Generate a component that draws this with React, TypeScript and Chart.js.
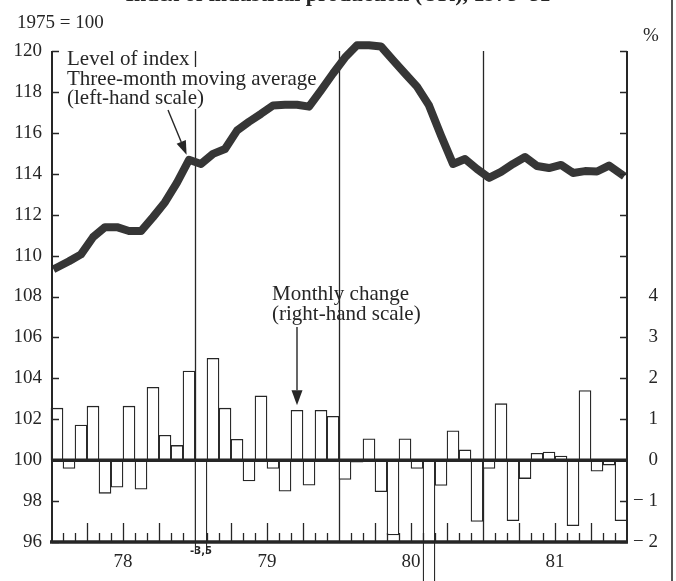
import React, { useEffect, useRef } from 'react';
import { Chart, registerables } from 'chart.js';

Chart.register(...registerables);

// ---- data -------------------------------------------------------------
const yearLabels = ['78', '79', '80', '81'];

// Level of index, three-month moving average (1975 = 100), Jan 1978 .. Dec 1981
const indexLevel = [
  109.42, 109.72, 110.06, 110.9, 111.39, 111.39, 111.2, 111.2, 111.88, 112.61, 113.57, 114.68,
  114.48, 114.97, 115.21, 116.11, 116.54, 116.93, 117.34, 117.37, 117.37, 117.28, 118.08, 118.9,
  119.68, 120.28, 120.28, 120.22, 119.55, 118.9, 118.26, 117.34, 115.87, 114.48, 114.72, 114.23,
  113.8, 114.09, 114.48, 114.82, 114.38, 114.28, 114.43, 114.04, 114.13, 114.11, 114.4, 113.99,
];

// Monthly change, % (right-hand scale)
const monthlyChange = [
  1.27, -0.2, 0.86, 1.32, -0.81, -0.66, 1.32, -0.71, 1.78, 0.61, 0.36, 2.18,
  -3.5, 2.49, 1.27, 0.51, -0.51, 1.57, -0.2, -0.76, 1.22, -0.61, 1.22, 1.07,
  -0.47, -0.05, 0.52, -0.77, -1.83, 0.52, -0.2, -4.6, -0.62, 0.72, 0.25, -1.5,
  -0.2, 1.38, -1.48, -0.45, 0.17, 0.2, 0.1, -1.6, 1.7, -0.27, -0.12, -1.48,
];

const rightLabelled = [-2, -1, 0, 1, 2, 3, 4];
const offScaleNote = '-3,5';

// ---- styles -----------------------------------------------------------
const INK = '#262626';
const SERIF = '"Liberation Serif", "Times New Roman", Times, serif';

function arrow(ctx: CanvasRenderingContext2D, x1: number, y1: number, x2: number, y2: number, head = 14, half = 5) {
  const a = Math.atan2(y2 - y1, x2 - x1);
  const bx = x2 - head * Math.cos(a);
  const by = y2 - head * Math.sin(a);
  ctx.beginPath();
  ctx.moveTo(x1, y1);
  ctx.lineTo(bx, by);
  ctx.stroke();
  ctx.beginPath();
  ctx.moveTo(x2, y2);
  ctx.lineTo(bx + half * Math.sin(a), by - half * Math.cos(a));
  ctx.lineTo(bx - half * Math.sin(a), by + half * Math.cos(a));
  ctx.closePath();
  ctx.fill();
}

const decor = {
  id: 'decor',
  beforeDatasetsDraw(chart: any) {
    const { ctx, chartArea: ca, scales } = chart;
    const x = scales.x;
    ctx.save();
    // year separators
    ctx.strokeStyle = INK;
    ctx.lineWidth = 1.3;
    for (let k = 1; k < yearLabels.length; k++) {
      const px = Math.round(x.getPixelForValue(k * 12)) + 0.5;
      ctx.beginPath();
      ctx.moveTo(px, ca.top);
      ctx.lineTo(px, ca.bottom);
      ctx.stroke();
    }
    // text masks the separator where the caption crosses it
    const sep1 = x.getPixelForValue(12);
    ctx.fillStyle = '#ffffff';
    ctx.fillRect(sep1 - 8, 67, 16, 42);
    ctx.fillStyle = INK;
    ctx.font = `21px ${SERIF}`;
    ctx.textAlign = 'left';
    ctx.textBaseline = 'alphabetic';
    ctx.fillText('Level of index', 67, 65);
    ctx.fillText('Three-month moving average', 67, 85);
    ctx.fillText('(left-hand scale)', 67, 104);
    ctx.restore();
  },
  afterDatasetsDraw(chart: any) {
    const { ctx, chartArea: ca, scales } = chart;
    const x = scales.x;
    const yL = scales.y;
    const yR = scales.y1;
    ctx.save();
    ctx.strokeStyle = INK;
    ctx.fillStyle = INK;

    // zero line of the monthly change
    const y0 = yR.getPixelForValue(0);
    ctx.lineWidth = 3.5;
    ctx.beginPath();
    ctx.moveTo(ca.left, y0);
    ctx.lineTo(ca.right, y0);
    ctx.stroke();

    // bottom axis
    ctx.beginPath();
    ctx.moveTo(ca.left - 1, ca.bottom);
    ctx.lineTo(ca.right + 1, ca.bottom);
    ctx.stroke();

    // left & right axes
    ctx.lineWidth = 2;
    ctx.beginPath();
    ctx.moveTo(ca.left + 1, ca.top);
    ctx.lineTo(ca.left + 1, ca.bottom);
    ctx.moveTo(ca.right, ca.top);
    ctx.lineTo(ca.right, ca.bottom);
    ctx.stroke();

    // left ticks (inward)
    ctx.lineWidth = 1.5;
    for (const t of yL.ticks) {
      const py = Math.round(yL.getPixelForValue(t.value)) + 0.5;
      ctx.beginPath();
      ctx.moveTo(ca.left + 1, py);
      ctx.lineTo(ca.left + 8, py);
      ctx.stroke();
    }
    // right ticks (inward)
    for (const t of yR.ticks) {
      const py = Math.round(yR.getPixelForValue(t.value)) + 0.5;
      ctx.beginPath();
      ctx.moveTo(ca.right - 7, py);
      ctx.lineTo(ca.right, py);
      ctx.stroke();
    }
    // monthly ticks on the time axis
    ctx.lineWidth = 1.3;
    for (let m = 1; m < monthlyChange.length; m++) {
      if (m % 12 === 0) continue;
      const px = Math.round(x.getPixelForValue(m)) + 0.5;
      const len = m % 3 === 0 ? 19 : 9;
      ctx.beginPath();
      ctx.moveTo(px, ca.bottom);
      ctx.lineTo(px, ca.bottom - len);
      ctx.stroke();
    }

    // arrows
    ctx.lineWidth = 1.4;
    const lastOf78 = indexLevel[11];
    arrow(ctx, 168, 110, x.getPixelForValue(11.3), yL.getPixelForValue(lastOf78) - 5);
    const pointTo = 20;
    arrow(ctx, x.getPixelForValue(pointTo + 0.5), 327, x.getPixelForValue(pointTo + 0.5), yR.getPixelForValue(monthlyChange[pointTo]) - 5, 15, 5.5);

    // texts
    ctx.font = `21px ${SERIF}`;
    ctx.textAlign = 'left';
    ctx.fillText('Monthly change', 272, 300);
    ctx.fillText('(right-hand scale)', 272, 320);

    ctx.font = `19px ${SERIF}`;
    ctx.fillText('1975 = 100', 17, 28);
    ctx.textAlign = 'center';
    ctx.fillText('%', 651, 41);

    // off-scale value note
    const deepIdx = monthlyChange.indexOf(-3.5);
    ctx.font = `bold 10px "DejaVu Sans", sans-serif`;
    ctx.fillText(offScaleNote, x.getPixelForValue(deepIdx + 0.5), ca.bottom + 12);

    // clipped heading from the page above
    ctx.font = `bold 22px ${SERIF}`;
    ctx.fillText('Index of industrial production (UK), 1978–81', 338, 1);

    // right edge of the scanned page
    ctx.strokeStyle = '#555';
    ctx.lineWidth = 2;
    ctx.beginPath();
    ctx.moveTo(672, 0);
    ctx.lineTo(672, 581);
    ctx.stroke();
    ctx.restore();
  },
};

export default function App() {
  const ref = useRef<HTMLCanvasElement>(null);

  useEffect(() => {
    document.body.style.margin = '0';
    const canvas = ref.current;
    if (!canvas) return;

    const lineData = indexLevel.map((v, i) => ({ x: i + 0.5, y: v }));
    const barsNear = monthlyChange.map((v, i) => ({ x: i + 0.5, y: v >= -4 ? v : null }));
    const barsDeep = monthlyChange.map((v, i) => ({ x: i + 0.5, y: v < -4 ? v : null }));

    const barCommon = {
      type: 'bar' as const,
      xAxisID: 'x',
      yAxisID: 'y1',
      backgroundColor: '#ffffff',
      borderColor: INK,
      borderWidth: 1.3,
      barPercentage: 1,
      categoryPercentage: 1,
      stack: 'm',
      order: 2,
    };

    const chart = new Chart(canvas, {
      type: 'bar',
      data: {
        datasets: [
          {
            type: 'line',
            xAxisID: 'x',
            yAxisID: 'y',
            data: lineData,
            borderColor: '#363636',
            borderWidth: 8,
            pointRadius: 0,
            tension: 0,
            borderJoinStyle: 'round',
            borderCapStyle: 'square',
            clip: false,
            order: 1,
          } as any,
          { ...barCommon, data: barsNear, clip: { left: 2, top: 0, right: 2, bottom: 12 } } as any,
          { ...barCommon, data: barsDeep, clip: { left: 2, top: 0, right: 2, bottom: 60 } } as any,
        ],
      },
      options: {
        responsive: false,
        animation: false,
        layout: { padding: { top: 51, left: 0, right: 18, bottom: 0 } },
        plugins: { legend: { display: false }, tooltip: { enabled: false }, title: { display: false } },
        scales: {
          x: {
            type: 'linear',
            min: 0,
            max: 48,
            offset: false,
            stacked: true,
            grid: { display: false, drawTicks: false, offset: false },
            border: { display: false },
            ticks: {
              stepSize: 6,
              autoSkip: false,
              maxRotation: 0,
              padding: 9,
              color: INK,
              font: { family: SERIF, size: 19 },
              callback: (v: any) => (Number(v) % 12 === 6 ? yearLabels[(Number(v) - 6) / 12] : ''),
            },
            afterFit: (s: any) => {
              s.height = 39;
            },
          },
          y: {
            type: 'linear',
            position: 'left',
            min: 96,
            max: 120,
            grid: { display: false, drawTicks: false },
            border: { display: false },
            ticks: {
              stepSize: 2,
              padding: 9,
              color: INK,
              font: { family: SERIF, size: 19 },
            },
            afterFit: (s: any) => {
              s.width = 51;
            },
          },
          y1: {
            type: 'linear',
            position: 'right',
            min: -2,
            max: 10,
            stacked: false,
            grid: { display: false, drawTicks: false },
            border: { display: false },
            ticks: {
              stepSize: 1,
              padding: 8,
              crossAlign: 'far',
              color: INK,
              font: { family: SERIF, size: 19 },
              callback: (v: any) => {
                const n = Number(v);
                if (!rightLabelled.includes(n)) return '';
                return n < 0 ? `\u2212 ${Math.abs(n)}` : String(n);
              },
            },
            afterFit: (s: any) => {
              s.width = 31;
            },
          },
        },
      } as any,
      plugins: [decor],
    });

    return () => chart.destroy();
  }, []);

  return (
    <div style={{ position: 'fixed', left: 0, top: 0, width: 676, height: 581, background: '#ffffff' }}>
      <canvas ref={ref} width={676} height={581} style={{ display: 'block' }} />
    </div>
  );
}
